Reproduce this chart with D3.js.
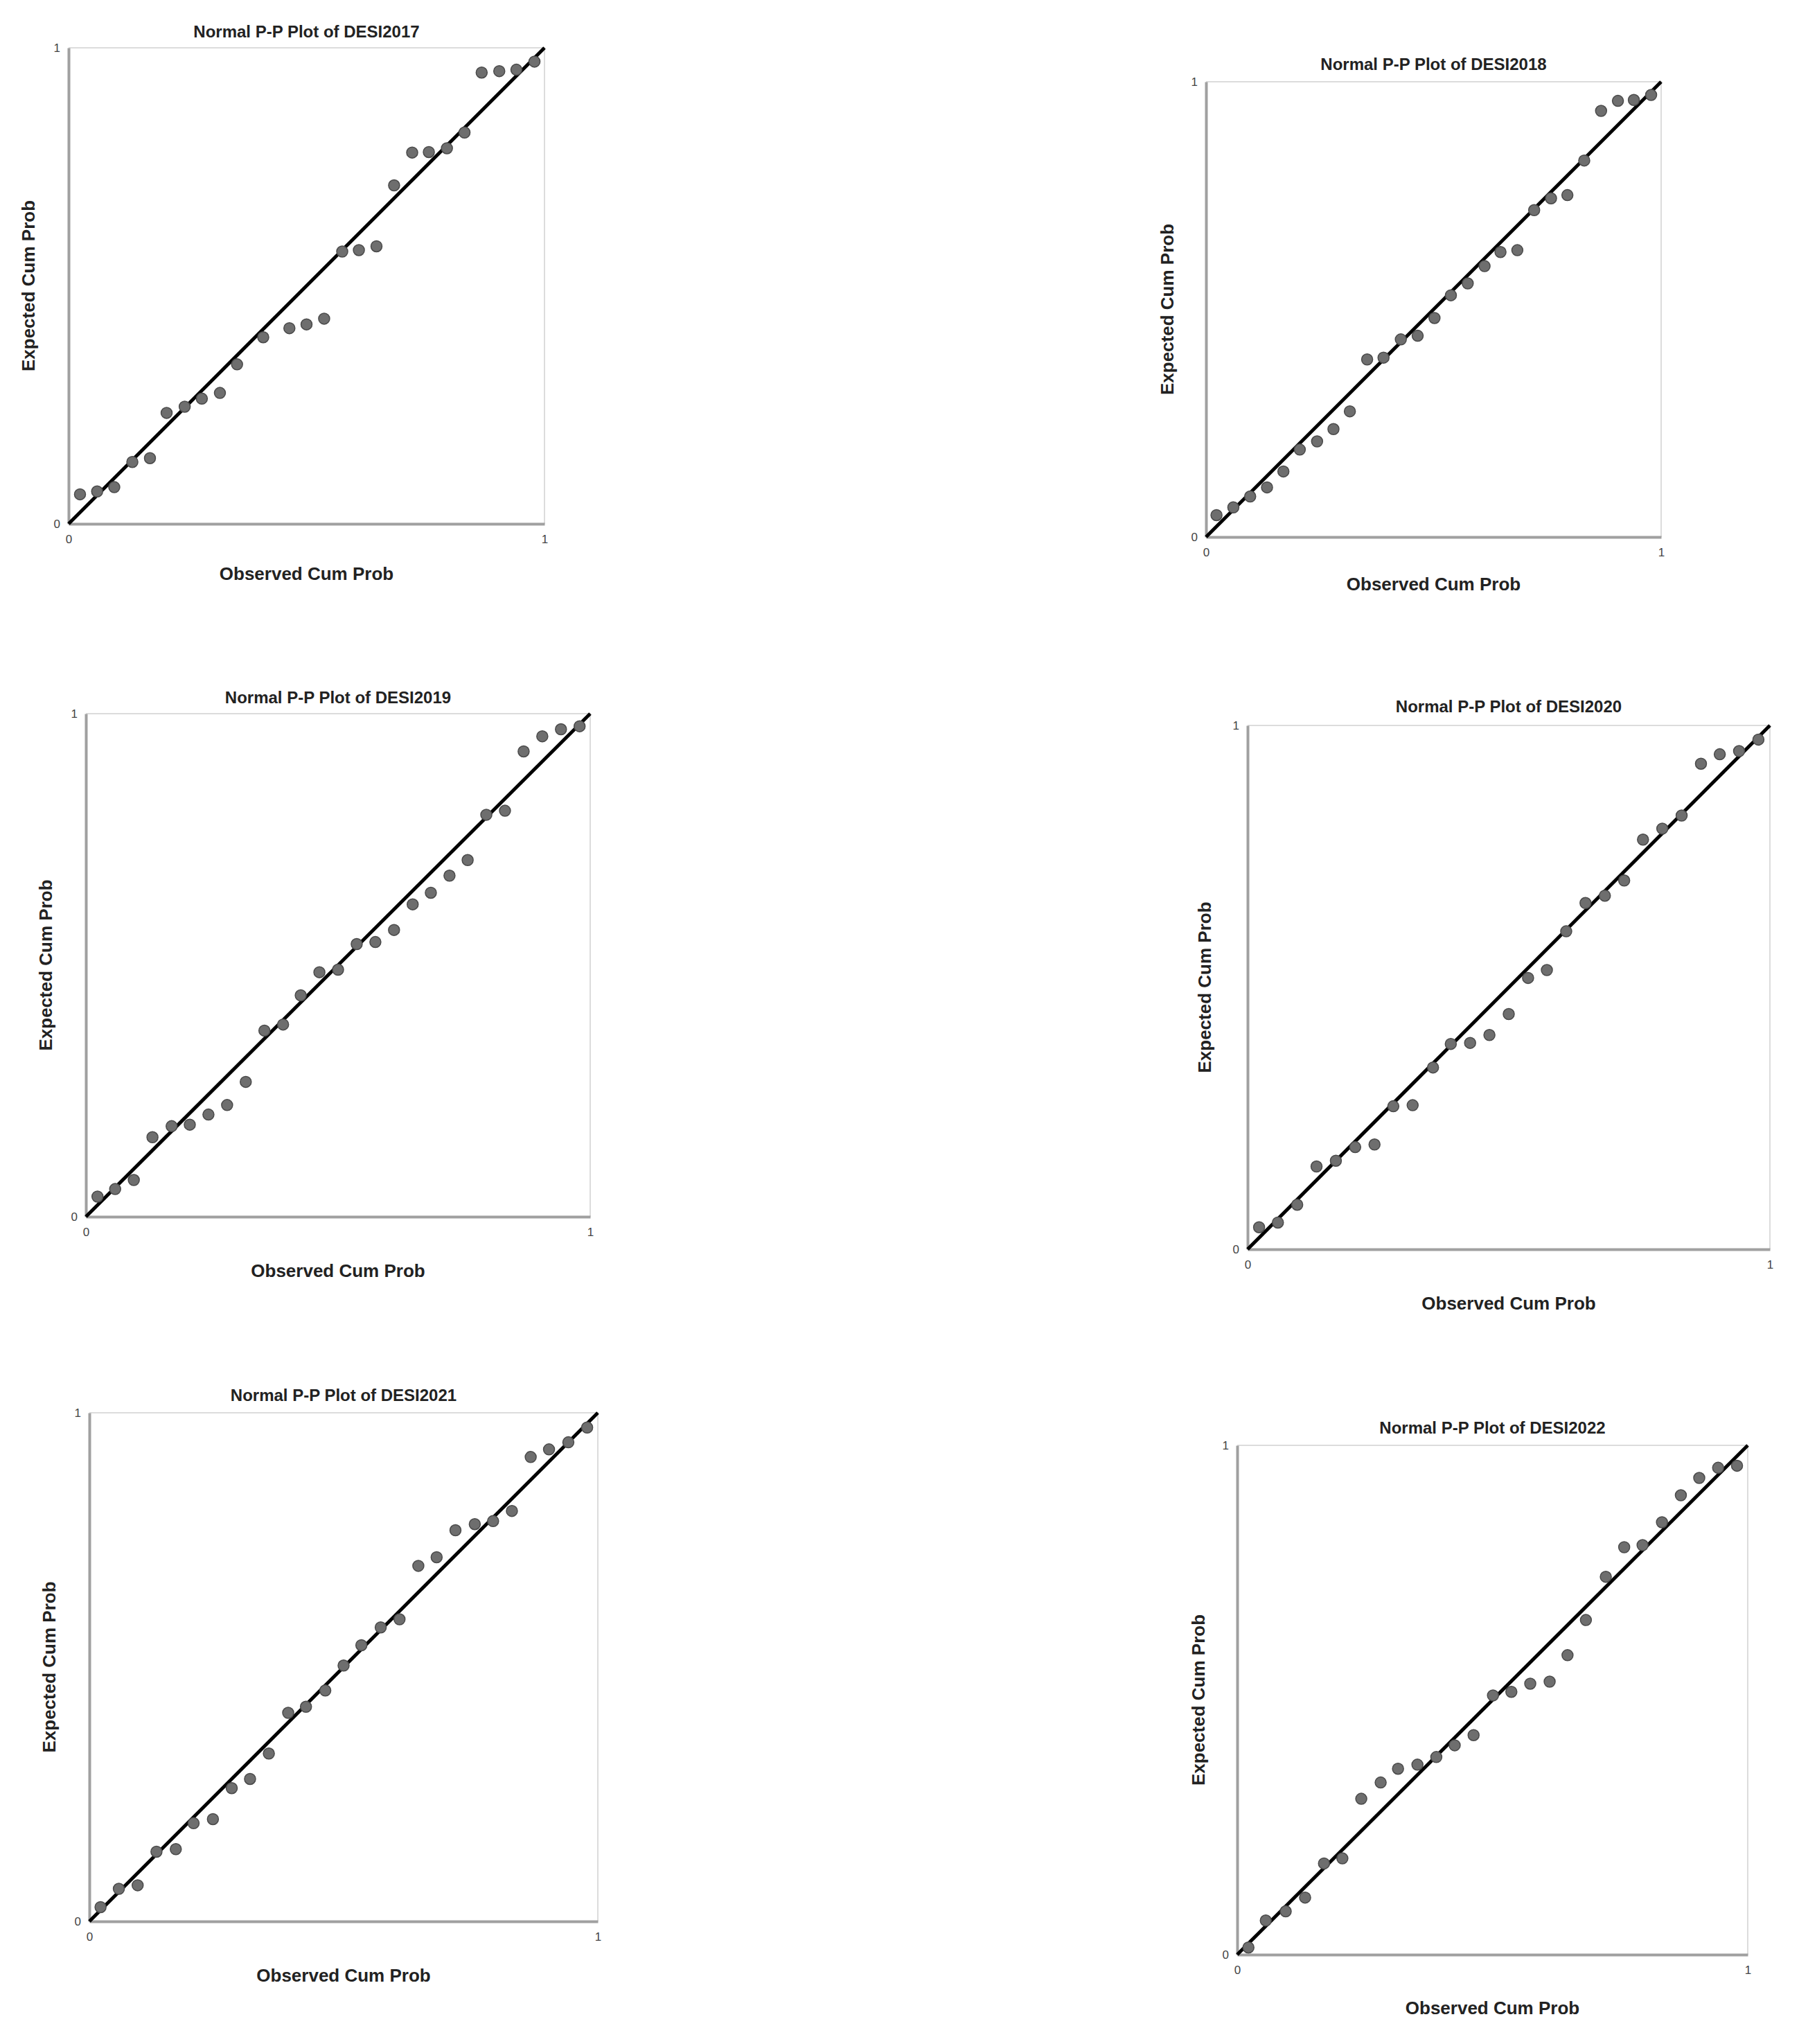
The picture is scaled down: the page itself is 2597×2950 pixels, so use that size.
<!DOCTYPE html>
<html><head><meta charset="utf-8">
<script src="https://cdn.jsdelivr.net/npm/d3@7"></script>
<style>body{margin:0;background:#fff}</style></head>
<body><svg id="c" width="2597" height="2950"></svg>
<script>
const titles = ["Normal P-P Plot of DESI2017","Normal P-P Plot of DESI2018","Normal P-P Plot of DESI2019","Normal P-P Plot of DESI2020","Normal P-P Plot of DESI2021","Normal P-P Plot of DESI2022"];
const tickLabels = [0, 1];
const obs2017 = [0.024,0.060,0.096,0.134,0.171,0.206,0.244,0.280,0.318,0.354,0.409,0.464,0.500,0.537,0.575,0.610,0.647,0.684,0.722,0.757,0.795,0.832,0.868,0.905,0.941,0.979];
const exp2017 = [0.062,0.068,0.077,0.130,0.138,0.233,0.246,0.263,0.275,0.335,0.392,0.411,0.419,0.431,0.572,0.575,0.583,0.711,0.780,0.781,0.789,0.822,0.948,0.951,0.954,0.971];
const obs2018 = [0.023,0.060,0.097,0.134,0.170,0.206,0.244,0.280,0.316,0.354,0.390,0.428,0.465,0.502,0.538,0.575,0.612,0.647,0.684,0.721,0.758,0.794,0.831,0.868,0.905,0.940,0.978];
const exp2018 = [0.048,0.065,0.089,0.109,0.144,0.192,0.210,0.237,0.276,0.390,0.394,0.434,0.442,0.481,0.531,0.557,0.595,0.626,0.630,0.718,0.744,0.751,0.827,0.936,0.958,0.960,0.971];
const obs2019 = [0.023,0.058,0.095,0.132,0.170,0.206,0.243,0.280,0.317,0.354,0.391,0.426,0.463,0.500,0.537,0.574,0.611,0.648,0.684,0.721,0.757,0.794,0.831,0.868,0.905,0.942,0.979];
const exp2019 = [0.040,0.055,0.073,0.158,0.180,0.183,0.203,0.222,0.268,0.370,0.382,0.440,0.486,0.491,0.542,0.546,0.570,0.621,0.644,0.678,0.709,0.799,0.807,0.925,0.955,0.969,0.975];
const obs2020 = [0.022,0.058,0.095,0.132,0.169,0.206,0.243,0.279,0.316,0.355,0.389,0.426,0.463,0.500,0.537,0.573,0.610,0.647,0.684,0.721,0.757,0.794,0.831,0.868,0.904,0.941,0.978];
const exp2020 = [0.042,0.051,0.085,0.158,0.169,0.195,0.200,0.273,0.275,0.347,0.392,0.394,0.409,0.449,0.518,0.533,0.607,0.661,0.675,0.704,0.782,0.803,0.828,0.927,0.945,0.951,0.973];
const obs2021 = [0.022,0.058,0.095,0.132,0.170,0.205,0.243,0.280,0.316,0.353,0.391,0.426,0.464,0.500,0.535,0.573,0.610,0.647,0.683,0.720,0.758,0.794,0.831,0.868,0.904,0.942,0.979];
const exp2021 = [0.028,0.064,0.071,0.137,0.142,0.193,0.201,0.262,0.280,0.330,0.410,0.422,0.454,0.503,0.543,0.578,0.594,0.699,0.716,0.769,0.781,0.787,0.807,0.913,0.928,0.942,0.971];
const obs2022 = [0.022,0.056,0.095,0.133,0.170,0.206,0.243,0.281,0.315,0.353,0.390,0.426,0.463,0.501,0.537,0.574,0.612,0.647,0.683,0.722,0.758,0.794,0.832,0.869,0.905,0.942,0.979];
const exp2022 = [0.014,0.067,0.085,0.112,0.179,0.189,0.306,0.338,0.365,0.373,0.388,0.411,0.431,0.509,0.516,0.532,0.536,0.588,0.657,0.742,0.800,0.804,0.849,0.902,0.936,0.956,0.960];
const obsList = [obs2017,obs2018,obs2019,obs2020,obs2021,obs2022];
const expList = [exp2017,exp2018,exp2019,exp2020,exp2021,exp2022];
const frames = [
 [99,786,69,756,45,825,41],
 [1741,2398,118,775,92,840,1685],
 [124,852,1030,1756,1006,1831,66],
 [1801,2555,1047,1803,1019,1878,1739],
 [129,863,2039,2773,2013,2848,71],
 [1786,2523,2086,2821,2060,2895,1730]
];
const svg = d3.select("#c");
const F = "Liberation Sans, Arial, sans-serif";
frames.forEach((f,i)=>{
  const [x0,x1,y0,y1,ty,xly,ylx] = f;
  const x = d3.scaleLinear().domain([0,1]).range([x0,x1]);
  const y = d3.scaleLinear().domain([0,1]).range([y1,y0]);
  const g = svg.append("g");
  g.append("path").attr("d",`M${x0},${y0}H${x1}V${y1}`).attr("fill","none").attr("stroke","#dcdcdc").attr("stroke-width",2);
  const xa = d3.axisBottom(x).tickValues(tickLabels).tickFormat(d3.format("d")).tickSize(0).tickPadding(16);
  const ya = d3.axisLeft(y).tickValues(tickLabels).tickFormat(d3.format("d")).tickSize(0).tickPadding(12);
  const gx = g.append("g").attr("transform",`translate(0,${y1})`).call(xa);
  const gy = g.append("g").attr("transform",`translate(${x0},0)`).call(ya);
  [gx,gy].forEach(a=>{a.select(".domain").attr("stroke","#a0a0a0").attr("stroke-width",4);
    a.selectAll("text").attr("font-family",F).attr("font-size",17).attr("fill","#444");});
  g.append("line").attr("x1",x(0)).attr("y1",y(0)).attr("x2",x(1)).attr("y2",y(1))
    .attr("stroke","#000").attr("stroke-width",5);
  const pts = obsList[i].map((o,k)=>[o,expList[i][k]]);
  g.selectAll("circle").data(pts).join("circle")
    .attr("cx",d=>x(d[0])).attr("cy",d=>y(d[1])).attr("r",8)
    .attr("fill","#6e6e6e").attr("stroke","#4a4a4a").attr("stroke-width",1.5);
  g.append("text").attr("x",(x0+x1)/2).attr("y",ty+9).attr("text-anchor","middle")
    .attr("font-family",F).attr("font-weight","bold").attr("font-size",24).attr("fill","#222").text(titles[i]);
  g.append("text").attr("x",(x0+x1)/2).attr("y",xly+12).attr("text-anchor","middle")
    .attr("font-family",F).attr("font-weight","bold").attr("font-size",26).attr("fill","#222").text("Observed Cum Prob");
  g.append("text").attr("transform",`translate(${ylx},${(y0+y1)/2}) rotate(-90)`).attr("text-anchor","middle")
    .attr("dy","0.35em").attr("font-family",F).attr("font-weight","bold").attr("font-size",26).attr("fill","#222").text("Expected Cum Prob");
});
</script></body></html>
